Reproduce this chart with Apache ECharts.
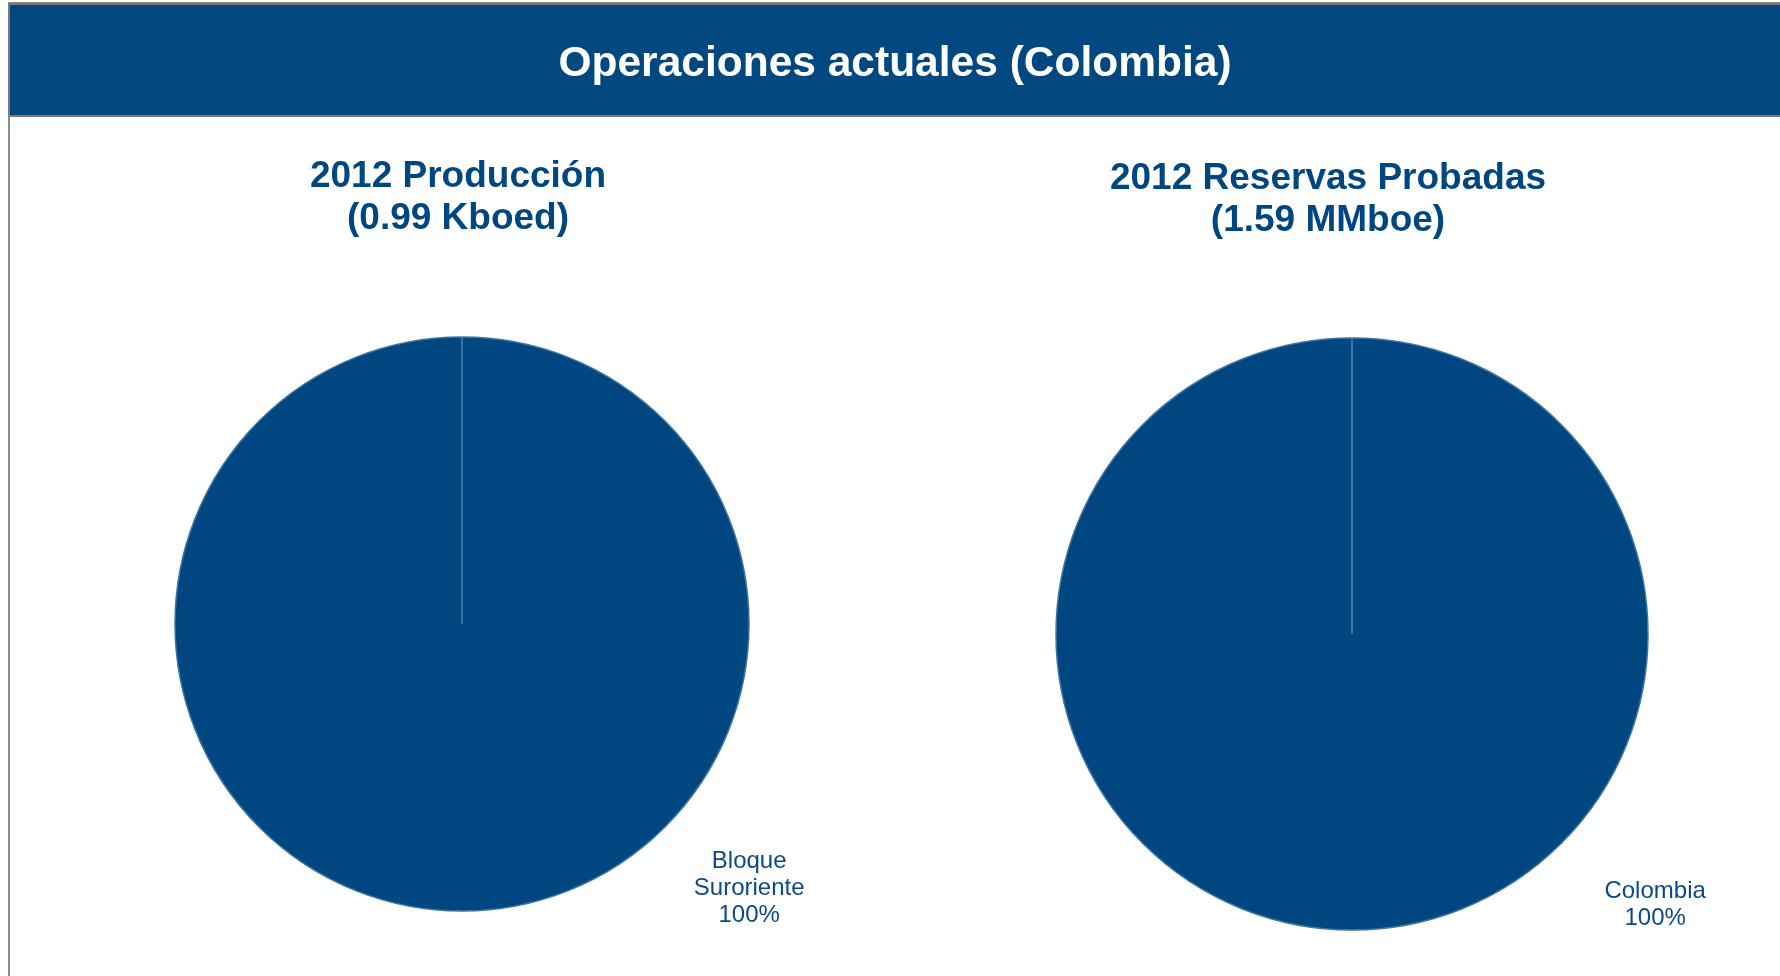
<!DOCTYPE html>
<html><head><meta charset="utf-8">
<script src="https://cdn.jsdelivr.net/npm/echarts@6/dist/echarts.min.js"></script>
<style>html,body{margin:0;padding:0;background:#fff}#c{width:1780px;height:976px}</style>
</head><body><div id="c"></div>
<script>
const headerTitle = 'Operaciones actuales (Colombia)';
const chartTitles = ['2012 Producción\n(0.99 Kboed)', '2012 Reservas Probadas\n(1.59 MMboe)'];
const prodCategories = ['Bloque Suroriente'];
const prodValues = [100];
const resCategories = ['Colombia'];
const resValues = [100];

const BLUE = '#004782';
const TXT = '#0a4a87';
const FONT = '"Liberation Sans", Arial, sans-serif';

const chart = echarts.init(document.getElementById('c'), null, {renderer: 'canvas'});

function pieSeries(cats, vals, center, radius, kx, ky) {
  return {
    type: 'pie',
    center: center,
    radius: radius,
    startAngle: 90,
    clockwise: true,
    silent: true,
    data: cats.map((c, i) => ({name: c, value: vals[i]})),
    itemStyle: {color: BLUE, borderColor: '#3e74a0', borderWidth: 1.5},
    label: {
      show: true, position: 'outside', color: TXT, fontFamily: FONT, fontSize: 24, lineHeight: 27,
      align: 'center', verticalAlign: 'middle',
      formatter: p => p.name.replace(/ /g, '\n') + '\n' + Math.round(p.percent) + '%'
    },
    labelLine: {show: false},
    labelLayout: function (p) {
      const r = p.rect.width / 2;
      const cx = p.rect.x + r, cy = p.rect.y + p.rect.height / 2;
      return {x: cx + kx * r, y: cy + ky * r, align: 'center', verticalAlign: 'middle'};
    }
  };
}

const option = {
  animation: false,
  backgroundColor: '#fff',
  graphic: [
    {type: 'rect', shape: {x: 9, y: 3, width: 1800, height: 1000}, style: {fill: '#fff', stroke: '#8a8a8a', lineWidth: 2}, z: -10},
    {type: 'rect', shape: {x: 9, y: 4, width: 1800, height: 112}, style: {fill: '#00487f', stroke: '#7a7a7a', lineWidth: 2}, z: -5}
  ],
  title: [
    {text: headerTitle, left: 890, textAlign: 'center', top: 38,
     textStyle: {color: '#fff', fontFamily: FONT, fontSize: 42.5, fontWeight: 'bold'}},
    {text: chartTitles[0], left: 453, textAlign: 'center', top: 151,
     textStyle: {color: BLUE, fontFamily: FONT, fontSize: 37, fontWeight: 'bold', lineHeight: 42}},
    {text: chartTitles[1], left: 1323, textAlign: 'center', top: 153,
     textStyle: {color: BLUE, fontFamily: FONT, fontSize: 37, fontWeight: 'bold', lineHeight: 42}}
  ],
  series: [
    pieSeries(prodCategories, prodValues, [462, 624], 287, 0.998, 0.918),
    pieSeries(resCategories, resValues, [1352, 634], 296, 1.0215, 0.914)
  ]
};
chart.setOption(option);

// radial edge line of each full slice, taken from the library's own layout
const lines = [];
chart.getModel().eachSeries(function (s) {
  const lay = s.getData().getItemLayout(0);
  if (!lay) return;
  lines.push({type: 'line', z: 100, silent: true,
    shape: {x1: lay.cx, y1: lay.cy,
            x2: lay.cx + lay.r * Math.cos(lay.startAngle), y2: lay.cy + lay.r * Math.sin(lay.startAngle)},
    style: {stroke: '#4f80a8', lineWidth: 1.5}});
});
chart.setOption({graphic: option.graphic.concat(lines)});
</script></body></html>
